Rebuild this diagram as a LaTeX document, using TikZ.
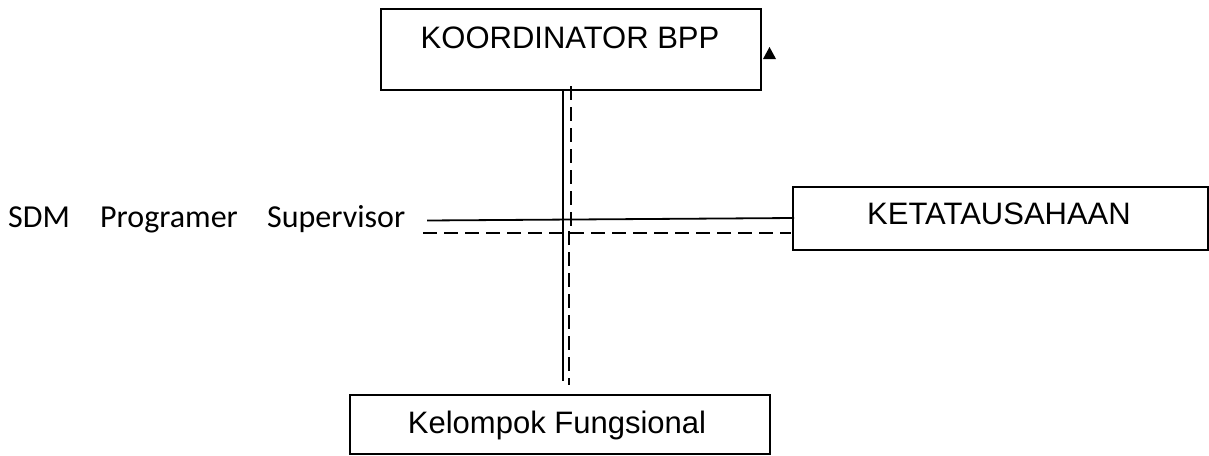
\documentclass[tikz,border=0pt]{standalone}
\usepackage{fontspec}
\setmainfont{Liberation Sans}
\newfontfamily\calib{Carlito}
\begin{document}
\begin{tikzpicture}[x=1pt,y=-1pt,
  boxstyle/.style={draw,line width=2pt,rectangle,inner sep=0pt},
  boxtext/.style={font=\fontsize{31}{36}\selectfont,inner sep=0pt},
  lefttext/.style={font=\calib\fontsize{32}{36}\selectfont,inner sep=0pt,anchor=base west},
  solidline/.style={line width=1.8pt},
  dashline/.style={line width=1.8pt,dash pattern=on 14pt off 7pt}]
\useasboundingbox (0,0) rectangle (1209,455);
% boxes
\node[boxstyle,minimum width=380pt,minimum height=81pt] (koor) at (571,49.5) {};
\node[boxtext] (koortext) at (570,38) {KOORDINATOR BPP};
\node[boxstyle,minimum width=415pt,minimum height=63pt] (keta) at (1000.5,218.5) {};
\node[boxtext] (ketatext) at (999,214) {KETATAUSAHAAN};
\node[boxstyle,minimum width=420pt,minimum height=59pt] (kelo) at (560,424.5) {};
\node[boxtext] (kelotext) at (557,425) {Kelompok Fungsional};
% left labels
\node[lefttext] (sdm) at (8,227) {SDM};
\node[lefttext] (prog) at (100,227) {Programer};
\node[lefttext] (sup) at (267,227) {Supervisor};
% triangle
\fill (763,59) -- (776,59) -- (769.5,47) -- cycle;
% coordinates
\coordinate (vs1) at (563,90);
\coordinate (vs2) at (563,381);
\coordinate (vd1) at (571,86);
\coordinate (vd2) at (571,232);
\coordinate (vd3) at (569,232);
\coordinate (vd4) at (569,385);
\coordinate (hs1) at (427,220.5);
\coordinate (hs2) at (794,218);
\coordinate (hd1) at (423,233);
\coordinate (hd2) at (791,233);
% lines
\draw[solidline] (vs1) -- (vs2);
\draw[dashline] (vd1) -- (vd2) -- (vd3) -- (vd4);
\draw[solidline] (hs1) -- (hs2);
\draw[dashline] (hd1) -- (hd2);
\end{tikzpicture}
\end{document}
